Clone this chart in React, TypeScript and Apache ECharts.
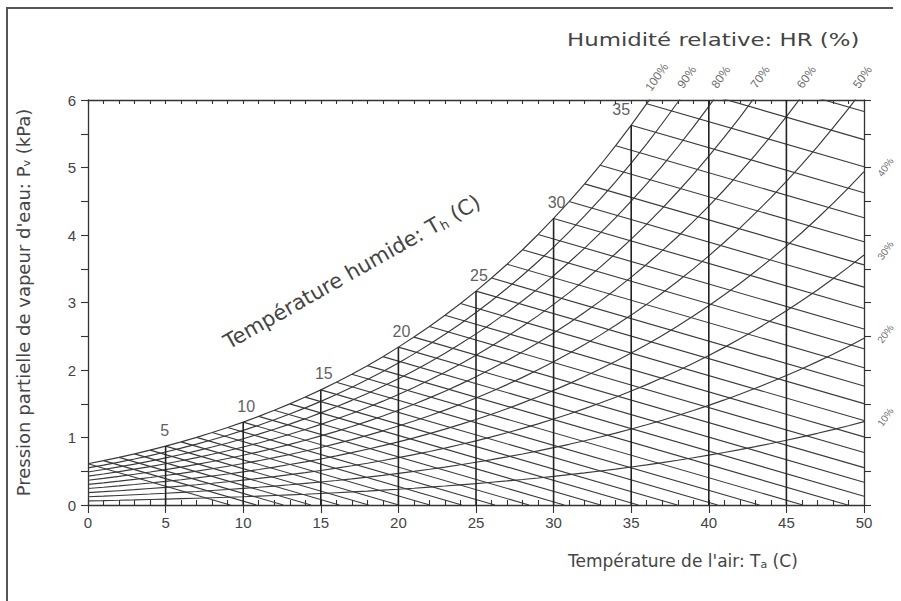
import React, { useEffect, useRef } from "react";
import * as echarts from "echarts";

// Saturation vapour pressure of water (kPa) at 0, 1, 2 … 50 °C
const SAT_TEMPS: number[] = Array.from({ length: 51 }, (_, i) => i);
const SAT_PRESSURE: number[] = [
  0.6113, 0.6571, 0.706, 0.7581, 0.8135, 0.8726, 0.9354, 1.0021, 1.073, 1.1482,
  1.2281, 1.3129, 1.4027, 1.4979, 1.5988, 1.7056, 1.8185, 1.938, 2.0644, 2.1978,
  2.3388, 2.4877, 2.6447, 2.8104, 2.985, 3.169, 3.3629, 3.567, 3.7818, 4.0078,
  4.2455, 4.4953, 4.7578, 5.0335, 5.3229, 5.6267, 5.9453, 6.2795, 6.6298, 6.9969,
  7.3814, 7.784, 8.2054, 8.6463, 9.1075, 9.5898, 10.094, 10.62, 11.171, 11.745,
  12.344,
];

// Relative humidity curves (%)
const RH_LEVELS = [10, 20, 30, 40, 50, 60, 70, 80, 90, 100];
// Wet-bulb temperature lines (°C), one per degree
const WET_BULB_TEMPS: number[] = Array.from({ length: 39 }, (_, i) => i);
// Dry-bulb verticals drawn up to the saturation curve
const DRY_BULB_LINES = [5, 10, 15, 20, 25, 30, 35, 40, 45];
// Wet-bulb values written along the saturation curve
const WET_BULB_LABELS = [5, 10, 15, 20, 25, 30, 35];
// Humidity labels along the top edge and the right edge
const TOP_RH_LABELS = [100, 90, 80, 70, 60, 50];
const SIDE_RH_LABELS = [40, 30, 20, 10];

// Psychrometric slope of a wet-bulb line (kPa per °C) at 101.3 kPa
const WET_BULB_SLOPE = 0.0667;

const X_MIN = 0;
const X_MAX = 50;
const Y_MIN = 0;
const Y_MAX = 6;

const FONT = "Liberation Sans, Arial, sans-serif";
const WIDE_FONT = "DejaVu Sans, Verdana, sans-serif";
const INK = "#3a3a3a";
const TEXT = "#444";

const psat = (t: number) => SAT_PRESSURE[SAT_TEMPS.indexOf(t)];

// temperature where the saturation pressure reaches a given level
const tempAtPressure = (p: number) => {
  for (let i = 0; i < SAT_PRESSURE.length - 1; i++) {
    if (p >= SAT_PRESSURE[i] && p <= SAT_PRESSURE[i + 1]) {
      return (
        SAT_TEMPS[i] +
        (p - SAT_PRESSURE[i]) / (SAT_PRESSURE[i + 1] - SAT_PRESSURE[i])
      );
    }
  }
  return X_MAX;
};

const buildOption = () => {
  const lineBase = {
    type: "line" as const,
    symbol: "none",
    silent: true,
    clip: true,
    xAxisIndex: 0,
    yAxisIndex: 0,
    z: 2,
  };

  const rhSeries = RH_LEVELS.map((rh) => ({
    ...lineBase,
    name: `HR ${rh}%`,
    data: SAT_TEMPS.map((t, i) => [t, (rh / 100) * SAT_PRESSURE[i]]),
    lineStyle: { color: INK, width: 1.15 },
  }));

  const wetSeries = WET_BULB_TEMPS.map((tw) => {
    const p0 = psat(tw);
    const pEnd = p0 - WET_BULB_SLOPE * (X_MAX - tw);
    const end = pEnd >= 0 ? [X_MAX, pEnd] : [tw + p0 / WET_BULB_SLOPE, 0];
    return {
      ...lineBase,
      name: `Th ${tw}`,
      data: [[tw, p0], end],
      lineStyle: { color: INK, width: 1.15 },
    };
  });

  const dryData: any[] = [];
  DRY_BULB_LINES.forEach((t) => {
    dryData.push([t, Y_MIN], [t, Math.min(psat(t), Y_MAX)], [null, null]);
  });
  const drySeries = {
    ...lineBase,
    name: "Ta",
    connectNulls: false,
    data: dryData,
    lineStyle: { color: "#222", width: 1.6 },
    z: 3,
  };

  const wetLabelSeries = {
    type: "scatter" as const,
    name: "Th labels",
    symbolSize: 0,
    silent: true,
    z: 5,
    data: WET_BULB_LABELS.map((t) => ({
      value: [t, Math.min(psat(t), Y_MAX)],
      label: {
        offset: t === 35 ? [-10, -4] : [t === 5 ? -1 : 3, -4],
      },
    })),
    label: {
      show: true,
      position: "top",
      distance: 4,
      formatter: (p: any) => String(p.value[0]),
      fontSize: 16,
      color: "#333",
      fontFamily: FONT,
    },
  };

  // rotated labels: offsets are given in the label's own rotated frame
  const topRhSeries = {
    type: "scatter" as const,
    name: "HR top",
    symbolSize: 0,
    silent: true,
    clip: false,
    z: 5,
    data: TOP_RH_LABELS.map((rh) => ({
      value: [tempAtPressure(Y_MAX / (rh / 100)), Y_MAX],
      name: `${rh}%`,
    })),
    label: {
      show: true,
      position: "inside",
      offset: [23, -7],
      rotate: 55,
      formatter: (p: any) => p.name,
      fontSize: 12,
      color: TEXT,
      fontFamily: FONT,
    },
  };

  const sideRhSeries = {
    type: "scatter" as const,
    name: "HR side",
    symbolSize: 0,
    silent: true,
    clip: false,
    z: 5,
    data: SIDE_RH_LABELS.map((rh) => ({
      value: [X_MAX, (rh / 100) * psat(X_MAX)],
      name: `${rh}%`,
    })),
    label: {
      show: true,
      position: "inside",
      offset: [16, 15],
      rotate: 55,
      formatter: (p: any) => p.name,
      fontSize: 10,
      color: TEXT,
      fontFamily: FONT,
    },
  };

  const axisLine = {
    show: true,
    onZero: false,
    lineStyle: { color: "#333", width: 1.3 },
  };
  const tickStyle = { color: "#333", width: 1.1 };

  return {
    animation: false,
    backgroundColor: "#fff",
    grid: [
      { left: 88, right: 37, top: 100, bottom: 96 },
      { left: 88, right: 37, top: 100, bottom: 96 },
    ],
    xAxis: [
      {
        gridIndex: 0,
        type: "value",
        min: X_MIN,
        max: X_MAX,
        interval: 5,
        position: "bottom",
        axisLine,
        axisTick: { show: true, length: 8, lineStyle: tickStyle },
        axisLabel: {
          fontSize: 15,
          color: TEXT,
          margin: 10,
          fontFamily: FONT,
        },
        splitLine: { show: false },
      },
      {
        gridIndex: 1,
        type: "value",
        min: X_MIN,
        max: X_MAX,
        interval: 1,
        position: "bottom",
        axisLine: { show: false, onZero: false },
        axisTick: { show: true, inside: true, length: 5, lineStyle: tickStyle },
        axisLabel: { show: false },
        splitLine: { show: false },
      },
      {
        gridIndex: 1,
        type: "value",
        min: X_MIN,
        max: X_MAX,
        interval: 1,
        position: "top",
        axisLine,
        axisTick: { show: true, inside: true, length: 4, lineStyle: tickStyle },
        axisLabel: { show: false },
        splitLine: { show: false },
      },
    ],
    yAxis: [
      {
        gridIndex: 0,
        type: "value",
        min: Y_MIN,
        max: Y_MAX,
        interval: 1,
        position: "left",
        axisLine,
        axisTick: { show: true, length: 7, lineStyle: tickStyle },
        minorTick: { show: true, splitNumber: 2, length: 7, lineStyle: tickStyle },
        axisLabel: {
          fontSize: 15,
          color: TEXT,
          margin: 12,
          fontFamily: FONT,
        },
        splitLine: { show: false },
        minorSplitLine: { show: false },
        name: "Pression partielle de vapeur d'eau: P{s|v} (kPa)",
        nameLocation: "middle",
        nameRotate: 90,
        nameGap: 56,
        nameTextStyle: {
          fontSize: 18,
          color: TEXT,
          fontFamily: WIDE_FONT,
          rich: {
            s: { fontSize: 11, color: TEXT, fontFamily: WIDE_FONT, padding: [7, 0, 0, 0] },
          },
        },
      },
      {
        gridIndex: 1,
        type: "value",
        min: Y_MIN,
        max: Y_MAX,
        interval: 0.5,
        position: "right",
        axisLine,
        axisTick: { show: true, length: 7, lineStyle: tickStyle },
        axisLabel: { show: false },
        splitLine: { show: false },
      },
    ],
    graphic: [
      // page frame
      {
        type: "polyline",
        silent: true,
        shape: { points: [[7, 601], [7, 8], [893, 8]] },
        style: { stroke: "#555", lineWidth: 2, fill: null },
      },
      {
        type: "text",
        x: 567,
        y: 31,
        scaleX: 1.27,
        silent: true,
        style: {
          text: "Humidité relative: HR (%)",
          fontSize: 18,
          fill: TEXT,
          fontFamily: WIDE_FONT,
        },
      },
      {
        type: "text",
        x: 568,
        y: 552,
        silent: true,
        style: {
          text: "Température de l'air: T{s|a} (C)",
          fontSize: 17,
          fill: TEXT,
          fontFamily: WIDE_FONT,
          rich: {
            s: { fontSize: 11, fill: TEXT, fontFamily: WIDE_FONT, padding: [7, 0, 0, 0] },
          },
        },
      },
      {
        type: "text",
        x: 352,
        y: 272,
        rotation: (29.5 * Math.PI) / 180,
        silent: true,
        style: {
          text: "Température humide: T{s|h} (C)",
          fontSize: 21,
          fill: TEXT,
          fontFamily: WIDE_FONT,
          align: "center",
          verticalAlign: "middle",
          rich: {
            s: { fontSize: 13, fill: TEXT, fontFamily: WIDE_FONT, padding: [9, 0, 0, 0] },
          },
        },
      },
    ],
    series: [
      ...rhSeries,
      ...wetSeries,
      drySeries,
      wetLabelSeries,
      topRhSeries,
      sideRhSeries,
    ],
  };
};

export default function App() {
  const ref = useRef<HTMLDivElement>(null);

  useEffect(() => {
    if (!ref.current) return;
    const chart = echarts.init(ref.current, undefined, { renderer: "svg" });
    chart.setOption(buildOption() as any);
    return () => chart.dispose();
  }, []);

  return (
    <div
      ref={ref}
      style={{
        position: "fixed",
        left: 0,
        top: 0,
        width: 901,
        height: 601,
        background: "#fff",
      }}
    />
  );
}
